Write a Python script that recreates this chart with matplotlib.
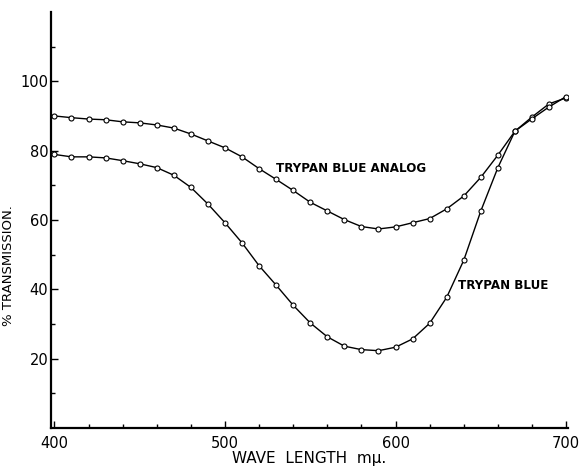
import matplotlib
matplotlib.use('Agg')
import matplotlib.pyplot as plt
import numpy as np

# wavelength in m-mu, one reading every 10
wave = np.arange(400, 701, 10)
analog = [90.0, 89.5, 89.1, 88.9, 88.3, 88.0, 87.4, 86.5, 84.8, 82.8,
          80.8, 78.2, 74.8, 71.7, 68.5, 65.1, 62.6, 60.1, 58.1, 57.4,
          58.0, 59.2, 60.4, 63.2, 66.9, 72.3, 78.7, 85.6, 89.7, 93.5, 95.2]
trypan = [78.9, 78.2, 78.2, 77.9, 77.1, 76.2, 75.1, 72.9, 69.4, 64.6,
          59.2, 53.4, 46.8, 41.2, 35.4, 30.3, 26.3, 23.6, 22.6, 22.3,
          23.3, 25.7, 30.2, 37.7, 48.4, 62.6, 75.1, 85.6, 89.2, 92.6, 95.6]
x_ticks = [400, 500, 600, 700]
y_ticks = [20, 40, 60, 80, 100]

fig = plt.figure(figsize=(5.88, 4.67), dpi=100)
ax = fig.add_axes([0.0867, 0.0835, 0.879, 0.891])

mk = dict(marker='o', markersize=3.6, markerfacecolor='white',
          markeredgecolor='black', markeredgewidth=0.8)
ax.plot(wave, analog, color='black', lw=1.0, **mk)
ax.plot(wave, trypan, color='black', lw=1.0, **mk)

ax.set_xlim(398, 701)
ax.set_ylim(0, 120)

ax.spines['right'].set_color('none')
ax.spines['top'].set_color('none')
ax.spines['left'].set_linewidth(1.6)
ax.spines['bottom'].set_linewidth(1.6)

ax.set_xticks(x_ticks)
ax.set_xticks(np.arange(400, 701, 20), minor=True)
ax.set_yticks(y_ticks)
ax.set_yticks(np.arange(10, 120, 10), minor=True)
ax.tick_params(which='both', direction='in', width=1.0)
ax.tick_params(which='major', length=5)
ax.tick_params(which='minor', length=3)
ax.tick_params(axis='x', labelsize=10.5, pad=6)
ax.tick_params(axis='y', labelsize=10.5, pad=2)

ax.set_xlabel('WAVE  LENGTH  m\u03bc.', fontsize=11, labelpad=0)
ax.set_ylabel('% TRANSMISSION.', fontsize=9.5)
ax.yaxis.set_label_coords(-0.069, 0.39)

ax.text(530, 74.8, 'TRYPAN BLUE ANALOG', fontsize=8.6, fontweight='bold',
        va='center', ha='left')
ax.text(636.5, 41.0, 'TRYPAN BLUE', fontsize=8.6, fontweight='bold',
        va='center', ha='left')

fig.savefig('out.png', dpi=100)
